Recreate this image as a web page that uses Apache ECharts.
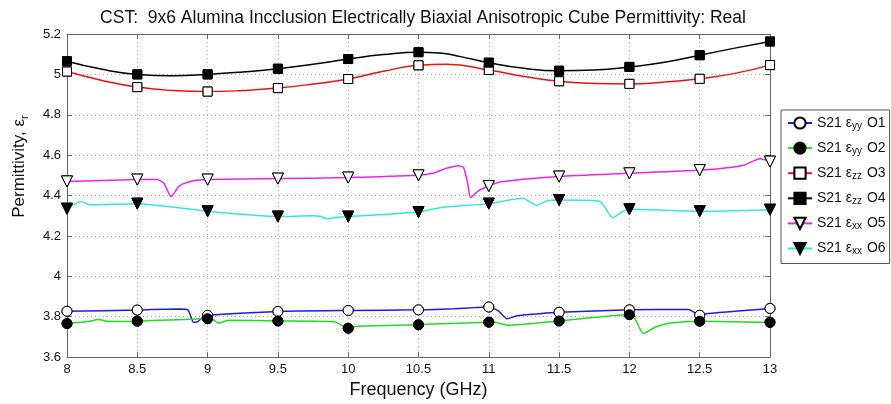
<!DOCTYPE html>
<html>
<head>
<meta charset="utf-8">
<script src="https://cdn.jsdelivr.net/npm/echarts@6/dist/echarts.min.js"></script>
<style>html,body{margin:0;padding:0;background:#fff}#c{width:891px;height:404px}</style>
</head>
<body>
<div id="c"></div>
<script>
const titleText = 'CST:  9x6 Alumina Incclusion Electrically Biaxial Anisotropic Cube Permittivity: Real';
const markerFreq = [8, 8.5, 9, 9.5, 10, 10.5, 11, 11.5, 12, 12.5, 13];

const o1Freq = [8, 8.5, 8.6, 8.8, 8.86, 8.9, 8.93, 8.97, 9, 9.5, 10, 10.5, 10.75, 10.9, 11, 11.07, 11.13, 11.2, 11.36, 11.5, 12, 12.42, 12.5, 12.56, 13];
const o1Val  = [3.827, 3.833, 3.836, 3.838, 3.834, 3.772, 3.776, 3.8, 3.807, 3.826, 3.831, 3.834, 3.84, 3.845, 3.848, 3.828, 3.79, 3.805, 3.815, 3.822, 3.834, 3.836, 3.807, 3.816, 3.841];

const o2Freq = [8, 8.15, 8.22, 8.3, 8.5, 9, 9.04, 9.08, 9.15, 9.5, 9.9, 9.97, 10, 10.05, 10.5, 11, 11.05, 11.13, 11.5, 12, 12.04, 12.1, 12.19, 12.3, 12.5, 13];
const o2Val  = [3.766, 3.776, 3.786, 3.776, 3.778, 3.79, 3.785, 3.768, 3.782, 3.779, 3.775, 3.75, 3.743, 3.752, 3.76, 3.773, 3.772, 3.758, 3.779, 3.81, 3.79, 3.717, 3.75, 3.77, 3.778, 3.772];

const o3Freq = [8, 8.25, 8.5, 8.75, 9, 9.25, 9.5, 9.75, 10, 10.25, 10.5, 10.7, 11, 11.25, 11.5, 11.75, 12, 12.25, 12.5, 12.75, 13];
const o3Val  = [5.014, 4.97, 4.937, 4.92, 4.915, 4.92, 4.932, 4.952, 4.977, 5.015, 5.045, 5.05, 5.022, 4.99, 4.966, 4.955, 4.953, 4.962, 4.978, 5.005, 5.046];

const o4Freq = [8, 8.25, 8.5, 8.75, 9, 9.25, 9.5, 9.75, 10, 10.25, 10.5, 10.65, 10.8, 11, 11.25, 11.5, 11.75, 12, 12.25, 12.5, 12.75, 13];
const o4Val  = [5.065, 5.025, 5.0, 4.993, 5.0, 5.012, 5.028, 5.05, 5.076, 5.098, 5.11, 5.106, 5.088, 5.058, 5.03, 5.018, 5.022, 5.037, 5.06, 5.095, 5.13, 5.163];

const o5Freq = [8, 8.5, 8.64, 8.69, 8.74, 8.8, 8.9, 9, 9.5, 10, 10.5, 10.6, 10.7, 10.78, 10.82, 10.85, 10.87, 10.92, 11, 11.08, 11.5, 12, 12.5, 12.8, 12.93, 13];
const o5Val  = [4.47, 4.479, 4.48, 4.46, 4.395, 4.448, 4.473, 4.479, 4.484, 4.489, 4.5, 4.51, 4.535, 4.548, 4.54, 4.46, 4.39, 4.42, 4.447, 4.467, 4.494, 4.51, 4.526, 4.548, 4.582, 4.568];

const o6Freq = [8, 8.1, 8.16, 8.5, 9, 9.5, 9.75, 9.8, 9.85, 9.9, 10, 10.5, 10.65, 11, 11.24, 11.34, 11.42, 11.5, 11.79, 11.88, 11.95, 12, 12.5, 13];
const o6Val  = [4.335, 4.37, 4.355, 4.36, 4.322, 4.296, 4.3, 4.298, 4.285, 4.29, 4.296, 4.318, 4.34, 4.36, 4.387, 4.352, 4.375, 4.378, 4.371, 4.29, 4.32, 4.332, 4.322, 4.33];

const seriesNames = ['S21 εyy O1', 'S21 εyy O2', 'S21 εzz O3', 'S21 εzz O4', 'S21 εxx O5', 'S21 εxx O6'];
const legendParts = [['yy', 'O1'], ['yy', 'O2'], ['zz', 'O3'], ['zz', 'O4'], ['xx', 'O5'], ['xx', 'O6']];

const defs = [
  {f: o1Freq, v: o1Val, line: '#1a1aee', sym: 'circle', fill: '#ffffff', size: 10, rot: 0, smooth: 0.2},
  {f: o2Freq, v: o2Val, line: '#22dd22', sym: 'circle', fill: '#000000', size: 10, rot: 0, smooth: 0.2},
  {f: o3Freq, v: o3Val, line: '#ee1111', sym: 'rect', fill: '#ffffff', size: 9, rot: 0, smooth: 0.5},
  {f: o4Freq, v: o4Val, line: '#000000', sym: 'rect', fill: '#000000', size: 9, rot: 0, smooth: 0.5},
  {f: o5Freq, v: o5Val, line: '#ee22ee', sym: 'triangle', fill: '#ffffff', size: 11, rot: 180, smooth: 0.2},
  {f: o6Freq, v: o6Val, line: '#33e5e5', sym: 'triangle', fill: '#000000', size: 11, rot: 180, smooth: 0.2}
];

const series = [];
defs.forEach((d, k) => {
  const lineData = d.f.map((x, i) => markerFreq.includes(x) ? [x, d.v[i]] : {value: [x, d.v[i]], symbol: 'none'});
  series.push({
    name: seriesNames[k], type: 'line', data: lineData, smooth: d.smooth,
    symbol: d.sym, symbolSize: d.size, symbolRotate: d.rot, showAllSymbol: true,
    lineStyle: {color: d.line, width: 1.5},
    itemStyle: {color: d.fill, borderColor: '#000000', borderWidth: 1},
    z: 2, animation: false
  });
});
defs.forEach((d, k) => {
  const pts = d.f.map((x, i) => [x, d.v[i]]).filter(p => markerFreq.includes(p[0]));
  series.push({
    name: seriesNames[k], type: 'scatter', data: pts,
    symbol: d.sym, symbolSize: d.size, symbolRotate: d.rot,
    itemStyle: {color: d.fill, borderColor: '#000000', borderWidth: 1, opacity: 1},
    z: 5, animation: false
  });
});

const FF = 'Liberation Sans, Arial, sans-serif';
const axisColor = '#666666';
const chart = echarts.init(document.getElementById('c'), null, {renderer: 'canvas'});
chart.setOption({
  backgroundColor: '#ffffff',
  animation: false,
  textStyle: {fontFamily: FF},
  title: {
    text: titleText, left: 418, textAlign: 'center', top: 4,
    textStyle: {fontSize: 17.5, fontWeight: 'normal', color: '#111', fontFamily: FF}
  },
  grid: {left: 67, right: 121, top: 34, bottom: 40, containLabel: false},
  legend: {
    orient: 'vertical', left: 781, top: 110,
    padding: [5, 4, 7, 6], itemWidth: 24, itemHeight: 14, itemGap: 9.1,
    backgroundColor: '#ffffff', borderColor: '#555', borderWidth: 1,
    data: seriesNames,
    formatter: function (name) {
      const k = seriesNames.indexOf(name);
      return '{a|S21 ε}{s|' + legendParts[k][0] + '}{a| ' + legendParts[k][1] + '}';
    },
    textStyle: {
      fontSize: 14, color: '#111',
      rich: {
        a: {fontSize: 14, lineHeight: 18, color: '#111', fontFamily: FF},
        s: {fontSize: 10, lineHeight: 12, color: '#111', padding: [6, 1, 0, 0], fontFamily: FF}
      }
    }
  },
  xAxis: [{
    type: 'value', min: 8, max: 13, interval: 0.5, position: 'bottom',
    name: 'Frequency (GHz)', nameLocation: 'middle', nameGap: 17,
    nameTextStyle: {fontSize: 18, color: '#111', fontFamily: FF},
    axisLine: {show: true, lineStyle: {color: axisColor, width: 1}},
    axisTick: {show: true, inside: true, length: 5, lineStyle: {color: axisColor}},
    axisLabel: {fontSize: 13, color: '#111', margin: 6},
    splitLine: {show: true, lineStyle: {color: '#b0b0b0', type: [1, 3], width: 1}}
  }, {
    type: 'value', min: 8, max: 13, interval: 0.5, position: 'top',
    axisLine: {show: true, lineStyle: {color: axisColor, width: 1}},
    axisTick: {show: true, inside: true, length: 5, lineStyle: {color: axisColor}},
    axisLabel: {show: false}, splitLine: {show: false}
  }],
  yAxis: [{
    type: 'value', min: 3.6, max: 5.2, interval: 0.2, position: 'left',
    name: '{a|Permittivity, ε}{s|r}', nameLocation: 'middle', nameGap: 37,
    nameTextStyle: {
      fontSize: 17, color: '#111', padding: [0, 0, 0, 58],
      rich: {
        a: {fontSize: 17, color: '#111', fontFamily: FF},
        s: {fontSize: 11, color: '#111', padding: [10, 0, 0, 0], fontFamily: FF}
      }
    },
    axisLine: {show: true, lineStyle: {color: axisColor, width: 1}},
    axisTick: {show: true, inside: true, length: 5, lineStyle: {color: axisColor}},
    axisLabel: {fontSize: 13, color: '#111', margin: 6},
    splitLine: {show: true, lineStyle: {color: '#b0b0b0', type: [1, 3], width: 1}}
  }, {
    type: 'value', min: 3.6, max: 5.2, interval: 0.2, position: 'right',
    axisLine: {show: true, lineStyle: {color: axisColor, width: 1}},
    axisTick: {show: true, inside: true, length: 5, lineStyle: {color: axisColor}},
    axisLabel: {show: false}, splitLine: {show: false}
  }],
  series: series
});
</script>
</body>
</html>
